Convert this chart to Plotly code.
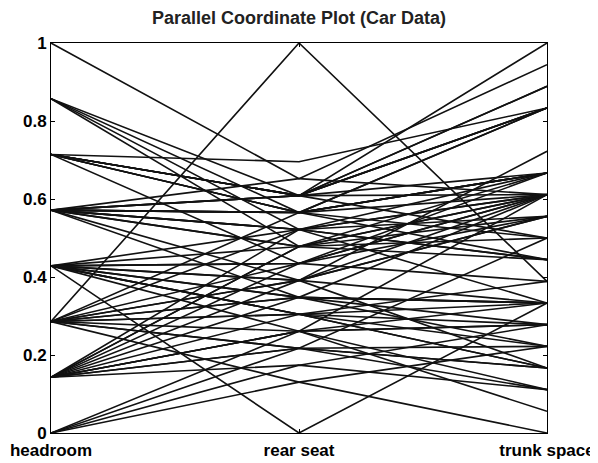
import numpy as np
import plotly.graph_objects as go

# 1979 car data: headroom (in), rear seat (in), trunk space (cu ft)
car_names = [
    'AMC Concord', 'AMC Pacer', 'AMC Spirit', 'Buick Century', 'Buick Electra',
    'Buick LeSabre', 'Buick Opel', 'Buick Regal', 'Buick Riviera', 'Buick Skylark',
    'Cad. Deville', 'Cad. Eldorado', 'Cad. Seville', 'Chev. Chevette', 'Chev. Impala',
    'Chev. Malibu', 'Chev. Monte Carlo', 'Chev. Monza', 'Chev. Nova', 'Dodge Colt',
    'Dodge Diplomat', 'Dodge Magnum', 'Dodge St. Regis', 'Ford Fiesta', 'Ford Mustang',
    'Linc. Continental', 'Linc. Mark V', 'Linc. Versailles', 'Merc. Bobcat', 'Merc. Cougar',
    'Merc. Marquis', 'Merc. Monarch', 'Merc. XR-7', 'Merc. Zephyr', 'Olds 98',
    'Olds Cutl Supr', 'Olds Cutlass', 'Olds Delta 88', 'Olds Omega', 'Olds Starfire',
    'Olds Toronado', 'Plym. Arrow', 'Plym. Champ', 'Plym. Horizon', 'Plym. Sapporo',
    'Plym. Volare', 'Pont. Catalina', 'Pont. Firebird', 'Pont. Grand Prix', 'Pont. Le Mans',
    'Pont. Phoenix', 'Pont. Sunbird', 'Audi 5000', 'Audi Fox', 'BMW 320i',
    'Datsun 200', 'Datsun 210', 'Datsun 510', 'Datsun 810', 'Fiat Strada',
    'Honda Accord', 'Honda Civic', 'Mazda GLC', 'Peugeot 604', 'Renault Le Car',
    'Subaru', 'Toyota Celica', 'Toyota Corolla', 'Toyota Corona', 'VW Dasher',
    'VW Diesel', 'VW Rabbit', 'VW Scirocco', 'Volvo 260',
]

headroom = [
    2.5, 3.0, 3.0, 4.5, 4.0, 4.0, 3.0, 2.0, 3.5, 3.5,
    4.0, 3.5, 3.0, 2.5, 4.0, 3.5, 2.0, 2.0, 3.5, 2.0,
    4.0, 4.0, 4.5, 1.5, 2.0, 3.5, 2.5, 3.5, 3.0, 3.5,
    3.5, 3.0, 3.0, 3.5, 4.0, 2.0, 4.5, 4.0, 4.5, 2.0,
    3.5, 2.0, 2.5, 4.0, 1.5, 5.0, 4.0, 1.5, 2.0, 3.5,
    3.5, 2.0, 3.0, 2.5, 2.5, 1.5, 2.0, 2.5, 2.5, 2.5,
    3.0, 2.5, 3.5, 3.5, 3.0, 2.5, 2.5, 3.0, 2.0, 2.5,
    3.0, 3.0, 2.0, 2.5,
]

rear_seat = [
    24.5, 18.5, 22.0, 25.0, 26.5, 25.5, 22.5, 24.0, 24.5, 24.5,
    25.5, 23.0, 24.0, 21.0, 25.5, 25.0, 24.0, 21.5, 25.0, 21.0,
    25.5, 25.0, 25.5, 20.0, 21.5, 26.0, 23.0, 24.0, 22.0, 25.5,
    25.5, 24.5, 23.5, 25.0, 25.5, 23.5, 24.5, 25.0, 24.0, 20.5,
    24.0, 22.5, 22.0, 23.5, 21.0, 26.0, 25.0, 20.5, 24.5, 25.0,
    24.5, 21.0, 23.5, 22.5, 30.0, 21.5, 22.0, 22.0, 23.0, 22.5,
    21.5, 20.0, 22.5, 25.5, 22.0, 21.5, 21.0, 22.5, 23.0, 23.5,
    23.0, 23.0, 21.5, 25.0,
]

trunk = [
    11, 11, 12, 16, 20, 21, 10, 16, 17, 13,
    20, 16, 13, 9, 20, 17, 16, 7, 13, 8,
    17, 17, 21, 9, 10, 22, 18, 15, 9, 16,
    23, 15, 16, 17, 20, 16, 16, 20, 14, 10,
    17, 11, 11, 17, 8, 16, 20, 7, 16, 17,
    13, 7, 15, 11, 12, 6, 8, 8, 8, 16,
    10, 5, 11, 14, 10, 11, 14, 9, 11, 12,
    15, 15, 16, 14,
]

axis_labels = ['headroom', 'rear seat', 'trunk space']
y_ticks = [0, 0.2, 0.4, 0.6, 0.8, 1]
y_tick_text = ['0', '0.2', '0.4', '0.6', '0.8', '1']


def normalize(v):
    v = np.asarray(v, dtype=float)
    return (v - v.min()) / (v.max() - v.min())


cols = [normalize(headroom), normalize(rear_seat), normalize(trunk)]
xpos = [1, 2, 3]

xs, ys = [], []
for i in range(len(headroom)):
    xs += xpos + [None]
    ys += [c[i] for c in cols] + [None]

FONT = 'Liberation Sans, Arial, sans-serif'

# the page body adds an 8px offset, so margins are shifted to compensate
fig = go.Figure()
fig.add_trace(go.Scatter(
    x=xs, y=ys,
    mode='lines',
    line=dict(color='#111', width=1.6),
    hoverinfo='skip',
    showlegend=False,
))
# invisible trace to activate right-hand axis for mirrored inner ticks
fig.add_trace(go.Scatter(x=[1], y=[0], yaxis='y2', mode='markers',
                         marker=dict(opacity=0), showlegend=False, hoverinfo='skip'))

fig.update_layout(
    width=598, height=463,
    margin=dict(l=43, r=59, t=35, b=38),
    paper_bgcolor='white',
    plot_bgcolor='white',
    font=dict(family=FONT, color='black'),
    title=dict(
        text='<b>Parallel Coordinate Plot (Car Data)</b>',
        x=(43 + 248) / 598, xanchor='center',
        y=1 - 10 / 463, yref='container', yanchor='middle',
        font=dict(size=18, color='#222'),
    ),
    xaxis=dict(
        range=[1, 3],
        tickvals=xpos,
        ticktext=[f'<b>{t}</b>' for t in axis_labels],
        tickfont=dict(size=17),
        ticks='inside', ticklen=4, tickcolor='black',
        ticklabelstandoff=2,
        showline=True, linecolor='black', linewidth=1, mirror='ticks',
        showgrid=False, zeroline=False, automargin=False,
    ),
    yaxis=dict(
        range=[0, 1],
        tickvals=y_ticks,
        ticktext=[f'<b>{t}</b>' for t in y_tick_text],
        tickfont=dict(size=17),
        ticks='inside', ticklen=4, tickcolor='black',
        showline=True, linecolor='black', linewidth=1, mirror=True,
        showgrid=False, zeroline=False, automargin=False,
    ),
    yaxis2=dict(
        range=[0, 1], overlaying='y', side='right',
        tickvals=y_ticks, showticklabels=False,
        ticks='inside', ticklen=4, tickcolor='black',
        showline=False, showgrid=False, zeroline=False, automargin=False,
    ),
)

fig.write_html('out.html')
